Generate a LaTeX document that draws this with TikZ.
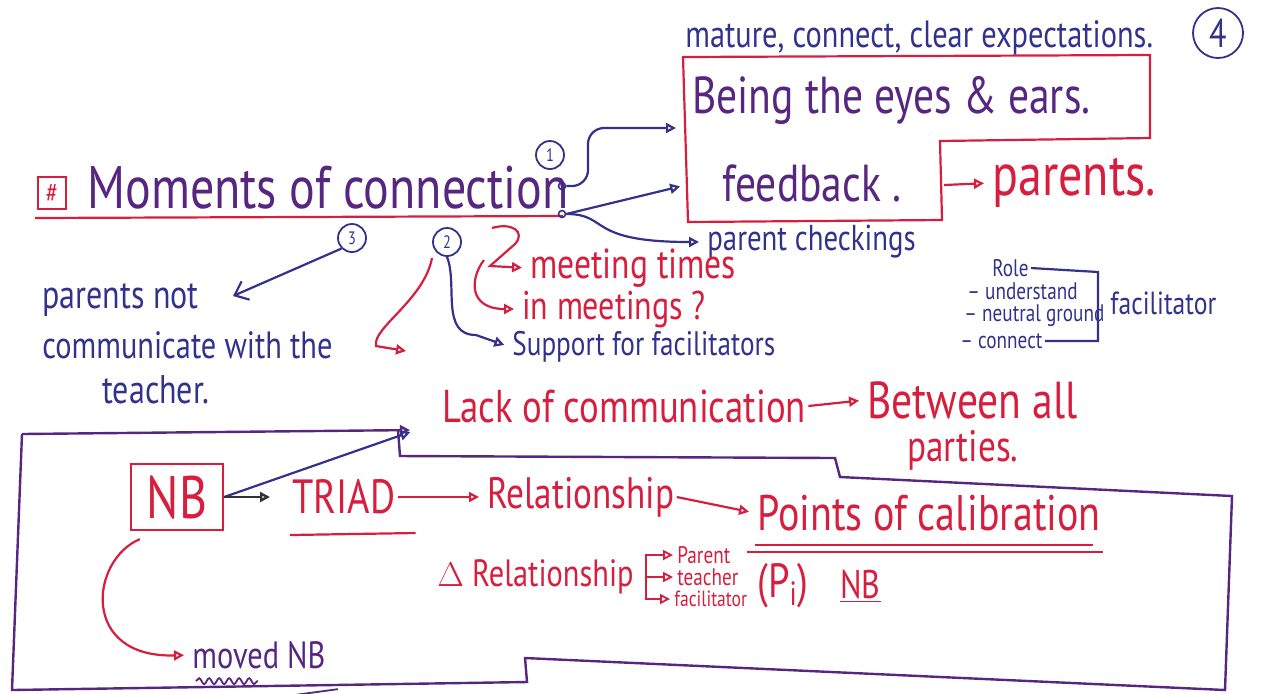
\documentclass[tikz,border=0pt]{standalone}
\usepackage{fontspec}
\setmainfont{PT Sans}[FakeStretch=0.8]
\usetikzlibrary{arrows.meta, positioning, calc, decorations.pathmorphing}
\definecolor{inkred}{RGB}{214,30,62}
\definecolor{inkblue}{RGB}{50,50,140}
\definecolor{inkpur}{RGB}{86,38,128}
\newcommand{\pen}[1]{\fontsize{#1pt}{#1pt}\selectfont}
\tikzset{
    redtxt/.style={text=inkred, inner sep=1pt, anchor=west},
    bluetxt/.style={text=inkblue, inner sep=1pt, anchor=west},
    purtxt/.style={text=inkpur, inner sep=1pt, anchor=west},
    num/.style={circle, draw=inkblue, line width=0.9pt, inner sep=0pt,
                minimum size=14pt, text=inkblue, font=\pen{9}},
    dotmark/.style={circle, draw=inkblue, line width=0.8pt, inner sep=0pt,
                minimum size=3.5pt},
    redline/.style={draw=inkred, line width=1.1pt},
    blueline/.style={draw=inkblue, line width=1.1pt},
    purline/.style={draw=inkpur, line width=1.2pt},
    redarr/.style={-{Triangle[open,length=5pt,width=5pt]}, draw=inkred,
                line width=1.1pt, shorten >=3pt},
    bluearr/.style={-{Triangle[open,length=5pt,width=5pt]}, draw=inkblue,
                line width=1.1pt, shorten >=3pt}
}
\begin{document}
\begin{tikzpicture}[x=0.5pt,y=-0.5pt]
\useasboundingbox (0,0) rectangle (1288,693);

% ── Top: expectations + eyes & ears box ───────────────────────────────
\node[bluetxt, font=\pen{19}] at (683,38) (expect) {mature, connect, clear expectations.};
\node[num, minimum size=25pt, font=\pen{20}] at (1218,33) (c4) {4};

\draw[redline] (683,57) -- (1150,55) -- (1150,138) -- (940,141) -- (942,220) -- (688,222) -- cycle;
\node[purtxt, font=\pen{26}] at (690,100) (eyes) {Being the eyes \& ears.};
\node[purtxt, font=\pen{26}] at (720,183) (feedback) {feedback .};
\coordinate (boxout) at (944,185);
\node[redtxt, font=\pen{30}] at (990,183) (parents) {parents.};
\draw[redarr] (boxout) -- (parents.west);

% ── Moments of connection ─────────────────────────────────────────────
\node[draw=inkred, line width=1pt, text=inkred, inner sep=1pt, minimum width=14pt,
      minimum height=16pt, font=\pen{14}] at (52,193) (hash) {\#};
\node[purtxt, font=\pen{30}] at (85,188) (moments) {Moments of connection};
\draw[redline] ($(moments.west)+(-50,30)$) -- ($(moments.east)+(-8,28)$);

\node[num] at (550,155) (c1) {1};
\node[num] at (447,242) (c2) {2};
\node[num] at (352,238) (c3) {3};
\node[dotmark] at (562,186) (dot1) {};
\node[dotmark] at (562,214) (dot2) {};

\node[bluetxt, font=\pen{18}] at (705,242) (checkings) {parent checkings};

\draw[bluearr, rounded corners=8pt] (dot1.east) -| (588,128) -- ($(eyes.west)+(-8,28)$);
\draw[bluearr] (dot2.east) -- ($(feedback.west)+(-34,2)$);
\draw[bluearr] (dot2.east) .. controls (610,214) and (585,242) .. (checkings.west);

% ── Branch 2: meetings ────────────────────────────────────────────────
\node[redtxt, font=\pen{21}] at (528,268) (mtimes) {meeting times};
\node[redtxt, font=\pen{20}] at (520,309) (inmeet) {in meetings ?};
\node[bluetxt, font=\pen{17}] at (510,347) (support) {Support for facilitators};

\coordinate (z1) at (492,228);
\coordinate (z2) at (484,260);
\draw[redarr] (z1) .. controls (512,222) and (526,232) .. (515,244) -- (490,266) -- (mtimes.west);
\draw[redarr] (z2) .. controls (470,278) and (468,309) .. (inmeet.west);
\draw[bluearr] (c2.south) .. controls (458,284) and (440,335) .. (476,335) -- (support.west);

% ── Role of the facilitator ───────────────────────────────────────────
\node[bluetxt, font=\pen{12}] at (990,268) (role) {Role};
\node[bluetxt, font=\pen{12}] at (965,291) (under) {– understand};
\node[bluetxt, font=\pen{12}] at (962,316) (neutral) {– neutral ground};
\node[bluetxt, font=\pen{12}] at (958,341) (conn) {– connect};
\coordinate (brk) at (1098,272);
\draw[blueline] (role.east) -- (brk) |- (conn.east);
\node[bluetxt, font=\pen{16}] at (1108,303) (facil) {facilitator};

% ── Branch 3: parents not communicating ───────────────────────────────
\node[bluetxt, font=\pen{20}] at (40,300) (pnot) {parents not};
\node[bluetxt, font=\pen{19}] at (40,345) (pcomm) {communicate with the};
\node[bluetxt, font=\pen{20}] at (100,390) (pteach) {teacher.};
\draw[-{Straight Barb[length=6pt,width=10pt]}, blueline] (c3.south west) -- ($(pnot.east)+(32,-4)$);

\coordinate (r3) at (432,258);
\coordinate (r3end) at (412,352);
\draw[redarr] (r3) .. controls (424,300) and (372,328) .. (376,346) -- (r3end);

% ── Lack of communication ─────────────────────────────────────────────
\node[redtxt, font=\pen{23}] at (440,406) (lack) {Lack of communication};
\node[redtxt, font=\pen{26}] at (865,400) (between) {Between all};
\node[redtxt, font=\pen{22}] at (905,450) (parties) {parties.};
\draw[redarr] (lack.east) -- (between.west);

% ── NB frame ──────────────────────────────────────────────────────────
\coordinate (boxtl) at (22,434);
\coordinate (lackin) at ($(lack.west)+(-24,24)$);
\draw[purline] (398,430) -- (400,456) -- (835,458) -- (840,477) -- (1232,496) -- (1225,690)
    -- (525,658) -- (527,682) -- (12,690) -- (boxtl);
\draw[bluearr, draw=inkpur, line width=1.2pt] (boxtl) -- (lackin);

\node[draw=inkred, line width=1.1pt, text=inkred, minimum width=46pt, minimum height=33pt,
      font=\pen{30}] at (177,497) (nb) {NB};
\draw[bluearr] (nb.east) -- (lackin);

\node[redtxt, font=\pen{24}] at (290,497) (triad) {TRIAD};
\draw[-{Triangle[open,length=5pt,width=5pt]}, draw=black!80, line width=1.2pt, shorten >=10pt]
    (nb.east) -- (triad.west);
\draw[redline] ($(triad.west)+(0,38)$) -- ($(triad.east)+(18,36)$);

\node[redtxt, font=\pen{22}] at (485,497) (rel) {Relationship};
\draw[redarr] (triad.east) -- (rel.west);
\node[redtxt, font=\pen{25}] at (755,513) (points) {Points of calibration};
\draw[redarr] (rel.east) -- (points.west);
\draw[redline] ($(points.west)+(0,32)$) -- ($(points.east)+(-10,32)$);
\draw[redline] ($(points.west)+(-8,39)$) -- ($(points.east)+(0,39)$);

% ── Change in relationship ────────────────────────────────────────────
\node[redtxt, font=\pen{19}] at (435,577) (drel) {$\Delta$\ Relationship};
\node[redtxt, font=\pen{12}] at (675,555) (parent) {Parent};
\node[redtxt, font=\pen{12}] at (675,577) (teacher) {teacher};
\node[redtxt, font=\pen{11}] at (672,599) (facil2) {facilitator};
\coordinate (fork) at ($(drel.east)+(10,-2)$);
\draw[redarr, line width=0.9pt, shorten >=1pt] (fork) |- (parent.west);
\draw[redarr, line width=0.9pt, shorten >=1pt] (fork) |- (teacher.west);
\draw[redarr, line width=0.9pt, shorten >=1pt] (fork) |- (facil2.west);

\node[redtxt, font=\pen{24}] at (755,586) (pi) {(P\textsubscript{i})};
\node[redtxt, font=\pen{20}] at (838,586) (nbu) {\underline{NB}};

% ── Moved NB ──────────────────────────────────────────────────────────
\node[purtxt, font=\pen{19}] at (190,655) (moved) {moved NB};
\draw[redarr] ($(nb.south west)+(10,8)$) .. controls (90,560) and (80,658) .. (moved.west);
\draw[purline, line width=0.9pt, decorate, decoration={snake, amplitude=1.5pt, segment length=5pt}]
    ($(moved.south west)+(6,10)$) -- ++(62,0);
\draw[purline, line width=0.9pt] ($(moved.south west)+(15,36)$) -- ($(moved.south east)+(10,18)$);
\draw[purline, line width=0.9pt] ($(moved.south west)+(30,42)$) -- ($(moved.south east)+(12,24)$);
\end{tikzpicture}
\end{document}
